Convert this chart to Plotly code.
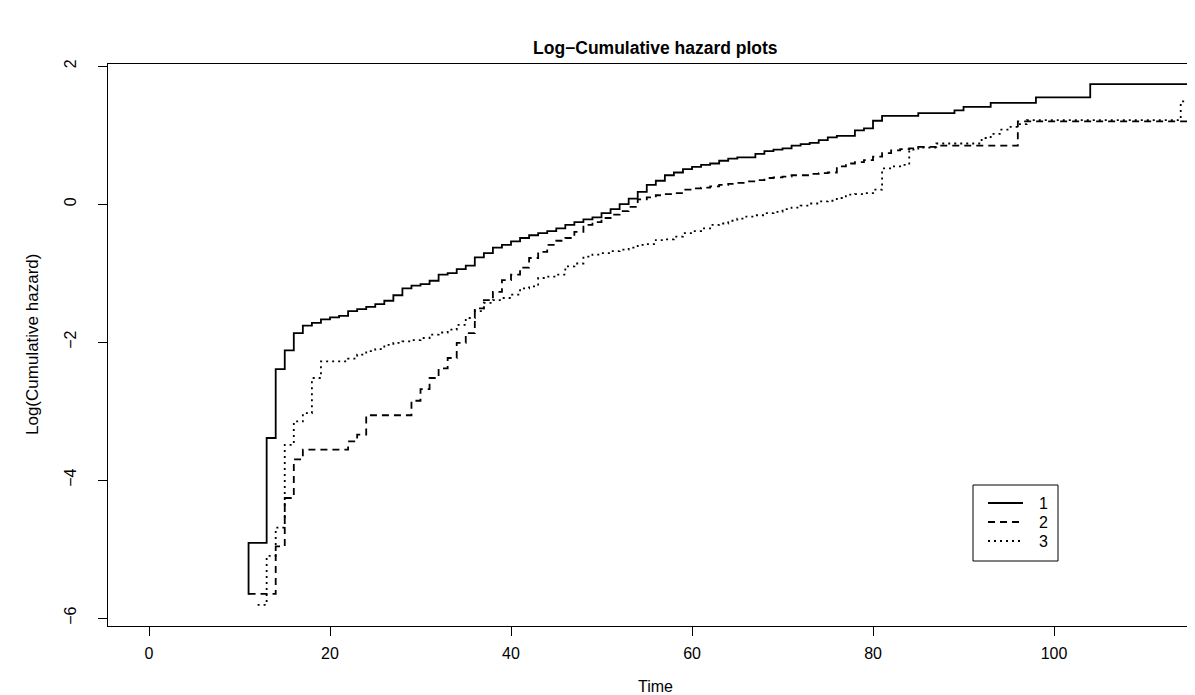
import plotly.graph_objects as go

# ---- data (time, log cumulative hazard) ----
end_time = 118

t1 = [10.9, 11, 13, 14, 15, 16, 17, 18, 19, 20, 21, 22, 23, 24, 25, 26, 27, 28, 29, 30,
      31, 32, 33, 34, 35, 36, 37, 38, 39, 40, 41, 42, 43, 44, 45, 46, 47, 48, 49, 50,
      51, 52, 53, 54, 55, 56, 57, 58, 59, 60, 61, 62, 63, 64, 65, 67, 68, 69, 70, 71,
      72, 73, 74, 75, 76, 78, 79, 80, 81, 85, 89, 90, 93, 98, 104]
h1 = [-5.65, -4.91, -3.39, -2.39, -2.12, -1.87, -1.76, -1.72, -1.67, -1.64, -1.62, -1.55, -1.52, -1.49, -1.45, -1.40, -1.32, -1.22, -1.18, -1.16,
      -1.11, -1.02, -1.00, -0.94, -0.89, -0.77, -0.71, -0.63, -0.59, -0.54, -0.49, -0.45, -0.42, -0.39, -0.35, -0.30, -0.26, -0.22, -0.19, -0.13,
      -0.07, 0.00, 0.08, 0.18, 0.28, 0.34, 0.42, 0.46, 0.51, 0.54, 0.57, 0.59, 0.63, 0.66, 0.68, 0.73, 0.77, 0.79, 0.81, 0.85,
      0.87, 0.89, 0.93, 0.97, 0.99, 1.07, 1.10, 1.21, 1.28, 1.32, 1.36, 1.41, 1.47, 1.55, 1.74]

t2 = [11, 14, 15, 16, 17, 22, 23, 24, 29, 30, 31, 32, 33, 34, 35, 36, 37, 38, 39, 40,
      41, 42, 43, 44, 45, 46, 47, 48, 49, 50, 51, 52, 53, 54, 55, 56, 57, 58, 59, 60,
      61, 62, 63, 64, 65, 66, 67, 68, 69, 70, 71, 73, 74, 75, 76, 77, 78, 79, 80, 81,
      82, 83, 84, 85, 87, 96]
h2 = [-5.65, -4.96, -4.26, -3.70, -3.56, -3.44, -3.34, -3.06, -2.85, -2.68, -2.52, -2.38, -2.23, -2.01, -1.87, -1.51, -1.39, -1.27, -1.10, -1.02,
      -0.92, -0.78, -0.69, -0.59, -0.53, -0.49, -0.40, -0.30, -0.26, -0.20, -0.15, -0.10, -0.04, 0.07, 0.10, 0.13, 0.145, 0.16, 0.21, 0.23,
      0.24, 0.26, 0.28, 0.295, 0.31, 0.33, 0.35, 0.38, 0.39, 0.40, 0.42, 0.44, 0.45, 0.46, 0.55, 0.59, 0.61, 0.64, 0.69, 0.74,
      0.78, 0.80, 0.81, 0.83, 0.85, 1.20]

t3 = [12, 13, 14, 15, 16, 17, 18, 19, 22, 23, 24, 25, 26, 27, 28, 29, 30, 31, 32, 33,
      34, 35, 36, 37, 38, 39, 40, 41, 42, 43, 44, 45, 46, 47, 48, 49, 50, 51, 52, 53,
      54, 55, 56, 57, 58, 59, 60, 61, 62, 63, 64, 65, 66, 67, 68, 69, 70, 71, 72, 73,
      74, 75, 76, 77, 78, 79, 80, 81, 82, 83, 84, 85, 87, 92, 93, 94, 95, 96, 97, 114]
h3 = [-5.81, -5.10, -4.69, -3.49, -3.15, -3.03, -2.52, -2.28, -2.24, -2.18, -2.13, -2.10, -2.04, -2.01, -1.99, -1.97, -1.94, -1.89, -1.86, -1.82,
      -1.75, -1.65, -1.55, -1.43, -1.39, -1.36, -1.31, -1.22, -1.19, -1.07, -1.05, -1.02, -0.90, -0.86, -0.76, -0.73, -0.71, -0.68, -0.66, -0.63,
      -0.59, -0.58, -0.52, -0.51, -0.47, -0.42, -0.39, -0.35, -0.30, -0.28, -0.24, -0.21, -0.18, -0.16, -0.13, -0.11, -0.07, -0.05, -0.02, 0.01,
      0.04, 0.05, 0.09, 0.14, 0.145, 0.16, 0.21, 0.52, 0.55, 0.57, 0.79, 0.82, 0.88, 0.96, 1.02, 1.08, 1.12, 1.16, 1.22, 1.49]

groups = ["1", "2", "3"]
x_ticks = [0, 20, 40, 60, 80, 100]
y_ticks = [-6, -4, -2, 0, 2]

FONT = "Liberation Sans, Arial, Helvetica, sans-serif"
W, H = 1195, 695
ML, MR, MT, MB = 100, 0, 56, 77
PW, PH = W - ML - MR, H - MT - MB


def px(x):  # pixel -> paper x
    return (x - ML) / PW


def py(y):  # pixel -> paper y
    return (H - MB - y) / PH


fig = go.Figure()
dashes = ["solid", "7px,5px", "2px,4px"]
for name, t, h, d in zip(groups, [t1, t2, t3], [h1, h2, h3], dashes):
    fig.add_trace(go.Scatter(x=t + [end_time], y=h + [h[-1]], mode="lines", name=name,
                             line=dict(shape="hv", color="black", width=1.8, dash=d),
                             showlegend=False))

# legend drawn in the style of R's legend() box
shapes = [dict(type="rect", xref="paper", yref="paper", x0=px(965), x1=px(1050),
               y0=py(553), y1=py(477), line=dict(color="black", width=1),
               fillcolor="white", layer="above")]
annotations = []
for i, (name, d) in enumerate(zip(groups, dashes)):
    yy = 495 + 19 * i
    shapes.append(dict(type="line", xref="paper", yref="paper", x0=px(980), x1=px(1015),
                       y0=py(yy), y1=py(yy), line=dict(color="black", width=1.8, dash=d),
                       layer="above"))
    annotations.append(dict(text=name, xref="paper", yref="paper", x=px(1035), y=py(yy),
                            xanchor="center", yanchor="middle", showarrow=False,
                            font=dict(size=16, family=FONT)))

annotations += [
    dict(text="<b>Log\u2212Cumulative hazard plots</b>", xref="paper", yref="paper",
         x=0.5, y=1, yshift=16, xanchor="center", yanchor="middle", showarrow=False,
         font=dict(size=17.5, family=FONT)),
    dict(text="Time", xref="paper", yref="paper", x=0.5, y=0, yshift=-60,
         xanchor="center", yanchor="middle", showarrow=False, font=dict(size=16, family=FONT)),
    dict(text="Log(Cumulative hazard)", xref="paper", yref="paper", x=0, xshift=-76, y=0.5,
         xanchor="center", yanchor="middle", textangle=-90, showarrow=False,
         font=dict(size=17, family=FONT)),
]

fig.update_layout(
    width=W, height=H,
    margin=dict(l=ML, r=MR, t=MT, b=MB),
    paper_bgcolor="white", plot_bgcolor="white",
    font=dict(family=FONT, size=16, color="black"),
    showlegend=False,
    shapes=shapes,
    annotations=annotations,
)
fig.update_xaxes(range=[-4.53, 116.46], tickvals=x_ticks, ticks="outside", ticklen=9,
                 tickcolor="black", showline=True, linecolor="black", linewidth=1, mirror=True,
                 showgrid=False, zeroline=False, tickfont=dict(size=16), ticklabelstandoff=4)
fig.update_yaxes(range=[-6.116, 2.033], tickvals=y_ticks, ticks="outside", ticklen=9,
                 tickcolor="black", showline=True, linecolor="black", linewidth=1, mirror=False,
                 showgrid=False, zeroline=False, tickangle=-90, tickfont=dict(size=16),
                 ticklabelstandoff=16)

fig.write_html("out.html")
